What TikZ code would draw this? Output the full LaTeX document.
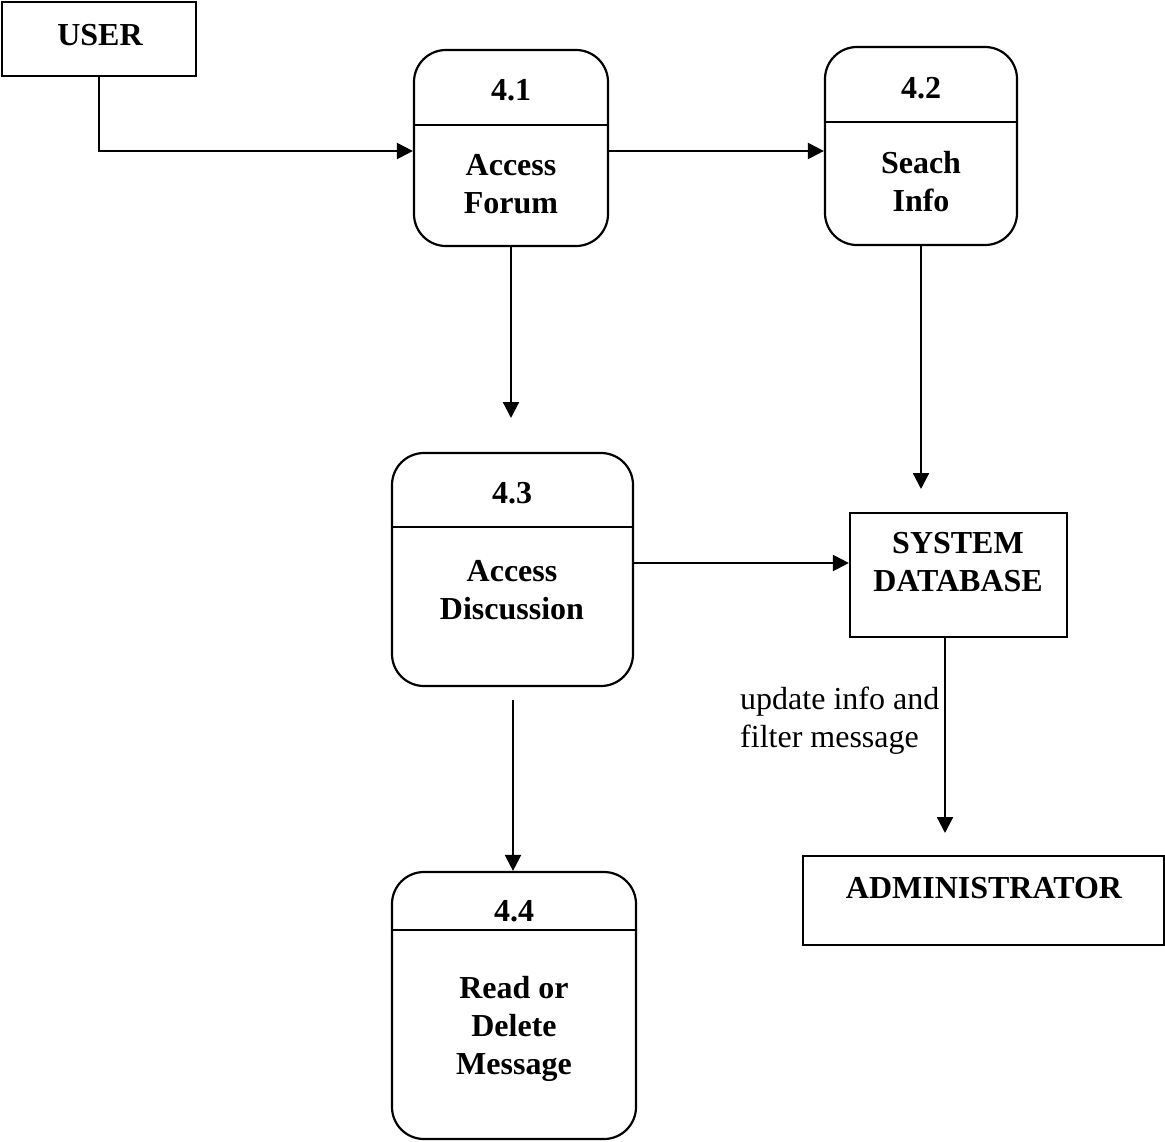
\documentclass[tikz,border=0pt]{standalone}
\usepackage{fontspec}
\setmainfont{Liberation Serif}
\usetikzlibrary{arrows.meta}
\tikzset{
  entity/.style={draw, line width=2.2pt, inner sep=0pt, rectangle},
  procbox/.style={draw, line width=2.2pt, inner sep=0pt, rectangle, rounded corners=32pt},
  divider/.style={line width=2.2pt},
  title/.style={font=\fontsize{32}{38}\selectfont\bfseries, align=center, inner sep=0pt},
  flowlabel/.style={font=\fontsize{32}{38}\selectfont, align=left, inner sep=0pt},
  flow/.style={line width=2.2pt, -{Triangle[length=16pt,width=16pt]}},
}
\begin{document}
\begin{tikzpicture}[x=1pt, y=-1pt]
\useasboundingbox (0,0) rectangle (1165,1141);

% external entities
\node[entity, minimum width=194pt, minimum height=74pt] (user) at (99,39) {};
\node[title] (usertxt) at (100,35) {USER};

\node[entity, minimum width=217pt, minimum height=124pt] (db) at (958.5,575) {};
\node[title] (dbtxt) at (958,562) {SYSTEM\\DATABASE};

\node[entity, minimum width=361pt, minimum height=89pt] (admin) at (983.5,900.5) {};
\node[title] (admintxt) at (984,888) {ADMINISTRATOR};

% divider heights
\coordinate (d41) at (0,125);
\coordinate (d42) at (0,122);
\coordinate (d43) at (0,527);
\coordinate (d44) at (0,930);

% processes
\node[procbox, minimum width=194pt, minimum height=196pt] (p41) at (511,148) {};
\draw[divider] (p41.west |- d41) -- (p41.east |- d41);
\node[title] (p41num) at (511,90) {4.1};
\node[title] (p41txt) at (511,184) {Access\\Forum};

\node[procbox, minimum width=192pt, minimum height=198pt] (p42) at (921,146) {};
\draw[divider] (p42.west |- d42) -- (p42.east |- d42);
\node[title] (p42num) at (921,88) {4.2};
\node[title] (p42txt) at (921,182) {Seach\\Info};

\node[procbox, minimum width=241pt, minimum height=233pt] (p43) at (512.5,569.5) {};
\draw[divider] (p43.west |- d43) -- (p43.east |- d43);
\node[title] (p43num) at (512,493) {4.3};
\node[title] (p43txt) at (512,590) {Access\\Discussion};

\node[procbox, minimum width=244pt, minimum height=267pt] (p44) at (514,1005.5) {};
\draw[divider] (p44.west |- d44) -- (p44.east |- d44);
\node[title] (p44num) at (514,911) {4.4};
\node[title, text depth=0pt] (p44txt) at (514,1025) {Read or\\Delete\\Message};

% flow ends and routing rows
\coordinate (row1) at (0,151);
\coordinate (row2) at (0,563);
\coordinate (end41) at (511,418);
\coordinate (end42) at (921,489);
\coordinate (start43) at (513,700);
\coordinate (dbx) at (945,0);
\coordinate (enddb) at (945,833);

% data flows
\draw[flow] (user.south) |- (p41.west |- row1);
\draw[flow] (p41.east |- row1) -- (p42.west |- row1);
\draw[flow] (p41.south) -- (end41);
\draw[flow] (p42.south) -- (end42);
\draw[flow] (p43.east |- row2) -- (db.west |- row2);
\draw[flow] (start43) -- (p44.north -| start43);
\draw[flow] (db.south -| dbx) -- (enddb);

\node[flowlabel, anchor=west] (dblabel) at (740,721) {update info and\\filter message};
\end{tikzpicture}
\end{document}
